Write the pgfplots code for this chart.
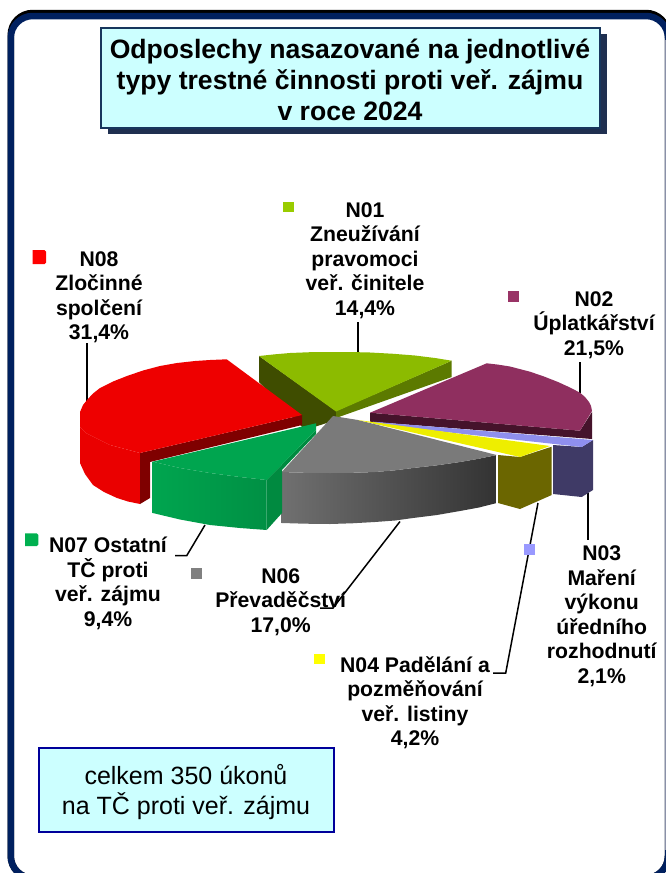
\documentclass[border=0pt]{standalone}
\usepackage{pgfplots}
\pgfplotsset{compat=1.18}
\usepackage{fontspec}
\setmainfont{Liberation Sans}
\definecolor{navy}{HTML}{00205F}
\definecolor{boxc}{HTML}{CCFFFF}
\definecolor{tbord}{HTML}{17365D}
\definecolor{tshad}{HTML}{1F2F50}
\definecolor{edgeg}{HTML}{8A90A8}
\definecolor{bbord}{HTML}{00009A}
\definecolor{olA}{HTML}{3F4D00}
\definecolor{olB}{HTML}{5C7A00}
\definecolor{olC}{HTML}{8CBB00}
\definecolor{olK}{HTML}{99CC00}
\definecolor{puA}{HTML}{45132B}
\definecolor{puB}{HTML}{8F2F5F}
\definecolor{puK}{HTML}{993366}
\definecolor{laA}{HTML}{3F3A66}
\definecolor{laB}{HTML}{8F8FEE}
\definecolor{laK}{HTML}{9999FF}
\definecolor{reA}{HTML}{EA0000}
\definecolor{reB}{HTML}{7F0000}
\definecolor{reC}{HTML}{EE0000}
\definecolor{reK}{HTML}{FF0000}
\definecolor{grA}{HTML}{707070}
\definecolor{grB}{HTML}{4A4A4A}
\definecolor{grC}{HTML}{333333}
\definecolor{grD}{HTML}{7A7A7A}
\definecolor{grK}{HTML}{808080}
\definecolor{yeA}{HTML}{6B6600}
\definecolor{yeB}{HTML}{EEEE00}
\definecolor{yeK}{HTML}{FFFF00}
\definecolor{gnA}{HTML}{008A40}
\definecolor{gnB}{HTML}{00A54F}
\definecolor{gnC}{HTML}{009044}
\definecolor{gnK}{HTML}{00B050}
\newcommand\poly[2]{\addplot[fill=#1,draw=none,mark=none] coordinates {#2};}
\newcommand\lead[1]{\addplot[black,line width=1.5pt,mark=none] coordinates {#1};}
\newcommand\lab[3]{\node[align=center,font=\fontsize{21.2}{24.5}\selectfont\bfseries,inner sep=0pt] at (axis cs:#1,#2) {#3};}
\newcommand\key[2]{\addplot[fill=#1,draw=none,mark=none] coordinates {#2};}
\begin{document}
\begin{tikzpicture}
\useasboundingbox (0,0) rectangle (666pt,873pt);
\begin{axis}[scale only axis,width=666pt,height=873pt,xmin=0,xmax=666,ymin=0,ymax=873,y dir=reverse,axis lines=none,clip=true]
% frame
\draw[black,line width=6.5pt,rounded corners=22pt] (axis cs:10.75,13) rectangle (axis cs:668,878);
\draw[navy,line width=6.5pt,rounded corners=22pt] (axis cs:10.75,16) rectangle (axis cs:668,878);
\draw[edgeg,line width=1pt] (axis cs:665.5,40) -- (axis cs:665.5,850);
% title
\fill[tshad] (axis cs:108,34) rectangle (axis cs:607,134);
\draw[fill=boxc,draw=tbord,line width=2pt] (axis cs:101,28) rectangle (axis cs:600,127.5);
\node[align=center,font=\fontsize{26.6}{31}\selectfont\bfseries,inner sep=0pt] at (axis cs:350,79.5) {Odposlechy nasazované na jednotlivé\\typy trestné činnosti proti veř. zájmu\\v roce 2024};
% leader lines
\lead{(358,322) (358,353)}
\lead{(580,362) (580,393)}
\lead{(87,343) (87,402)}
\lead{(588,493) (588,540)}
\lead{(538,503) (505.7,673) (493,673)}
\lead{(400,521.5) (333,608) (320,608)}
\lead{(205,525) (186.7,555.7) (175,555.7)}
% N01
\poly{olA}{(259,356) (336,411) (336,420) (305,430) (259,382)}
\poly{olB}{(451.7,360.7) (451.7,377) (336,418) (336,411)}
\poly{olC}{(259,356) (275,354.3) (290,353) (310,352.2) (330,352) (350,352) (370,352.5) (392,353.7) (415,355.5) (435,358) (451.7,360.7) (336,411.5)}
% N02
\poly{puA}{(370,412.7) (580,430.7) (592,412) (592,439) (370,421.7)}
\poly{puB}{(370,412.7) (486.7,363.3) (498,364.6) (510,366.5) (530,371.7) (544,376.5) (558,382) (570,387.5) (580,392.7) (585,397) (589,402) (591,406) (592,411) (580,430.7)}
% N03
\poly{laA}{(553,445) (581.7,447) (593,440) (593,490) (581.7,497) (553,494)}
\poly{laB}{(373,421.7) (593,440) (581.7,447) (373,424)}
% N08
\poly{reA}{(80,412) (80,427) (86,433) (110,445) (140,453) (140,504) (128,501.5) (117,498) (104,492) (93,485) (85,474) (80,463)}
\poly{reB}{(140,453) (302,415) (302,425) (150,462) (150,498) (140,504)}
\poly{reC}{(226.7,359.3) (302,415) (140,453) (110,445) (86,433) (80,427) (80,412) (83,405) (87,400) (93,393.5) (100,388) (113,381.5) (127,376) (143,370.5) (160,366) (177,363) (195,361) (210,360)}
% N06
\addplot[draw=none,mark=none,left color=grA,middle color=grB,right color=grC] coordinates {(281.7,472) (305,472.8) (330,473) (352,472.8) (375,472) (395,470.3) (413,468) (437,465.3) (460,462) (479,458.7) (496.7,455) (496.7,503) (479,507.5) (460,511) (437,515) (413,518) (395,520.5) (375,522) (352,523.3) (330,524) (305,523.7) (281.7,523)};
\poly{grD}{(333,416) (358,420) (496.7,455) (479,458.7) (460,462) (437,465.3) (413,468) (395,470.3) (375,472) (352,472.8) (330,473) (305,472.8) (281.7,472)}
% N04
\poly{yeA}{(498,455) (520,457) (551.7,446.7) (551.7,495) (520,509) (498,503)}
\poly{yeB}{(358,420) (550,446) (520,457)}
% N07
\poly{gnA}{(266.7,480) (316,430) (316,434) (282,470) (282,513) (266.7,530)}
\addplot[draw=none,mark=none,left color=gnB,right color=gnC] coordinates {(152.7,461.7) (180,468) (210,473) (240,477) (266.7,480) (266.7,530) (240,528) (210,525) (180,519.5) (152.7,513)};
\poly{gnB}{(152.7,461.7) (316,423.3) (316,430) (266.7,480) (240,477) (210,473) (180,468)}
% keys
\key{olK}{(283.3,201.5) (294.3,201.5) (294.3,212) (283.3,212)}
\key{puK}{(508,291) (519,291) (519,302) (508,302)}
\addplot[fill=reK,draw=none,mark=none,rounded corners=1.5pt] coordinates {(32.5,250) (46,250) (46,264) (32.5,264)};
\addplot[fill=gnK,draw=none,mark=none,rounded corners=1.5pt] coordinates {(25,533.3) (38.3,533.3) (38.3,546) (25,546)};
\key{grK}{(191,567.7) (202,567.7) (202,579) (191,579)}
\key{yeK}{(314,654) (325,654) (325,664) (314,664)}
\key{laK}{(524,544) (535,544) (535,555) (524,555)}
% labels
\lab{365}{260.5}{N01\\Zneužívání\\pravomoci\\veř. činitele\\14,4\%}
\lab{594}{325}{N02\\Úplatkářství\\21,5\%}
\lab{99}{297}{N08\\Zločinné\\spolčení\\31,4\%}
\lab{108}{583.5}{N07 Ostatní\\TČ proti\\veř. zájmu\\9,4\%}
\lab{280.7}{602}{N06\\Převaděčství\\17,0\%}
\lab{415}{702.5}{N04 Padělání a\\pozměňování\\veř. listiny\\4,2\%}
\lab{601.7}{616}{N03\\Maření\\výkonu\\úředního\\rozhodnutí\\2,1\%}
% total box
\draw[fill=boxc,draw=bbord,line width=2.2pt] (axis cs:39,748) rectangle (axis cs:334,832);
\node[align=center,font=\fontsize{25}{30}\selectfont,inner sep=0pt] at (axis cs:186,792.5) {celkem 350 úkonů\\na TČ proti veř. zájmu};
\end{axis}
\end{tikzpicture}
\end{document}
